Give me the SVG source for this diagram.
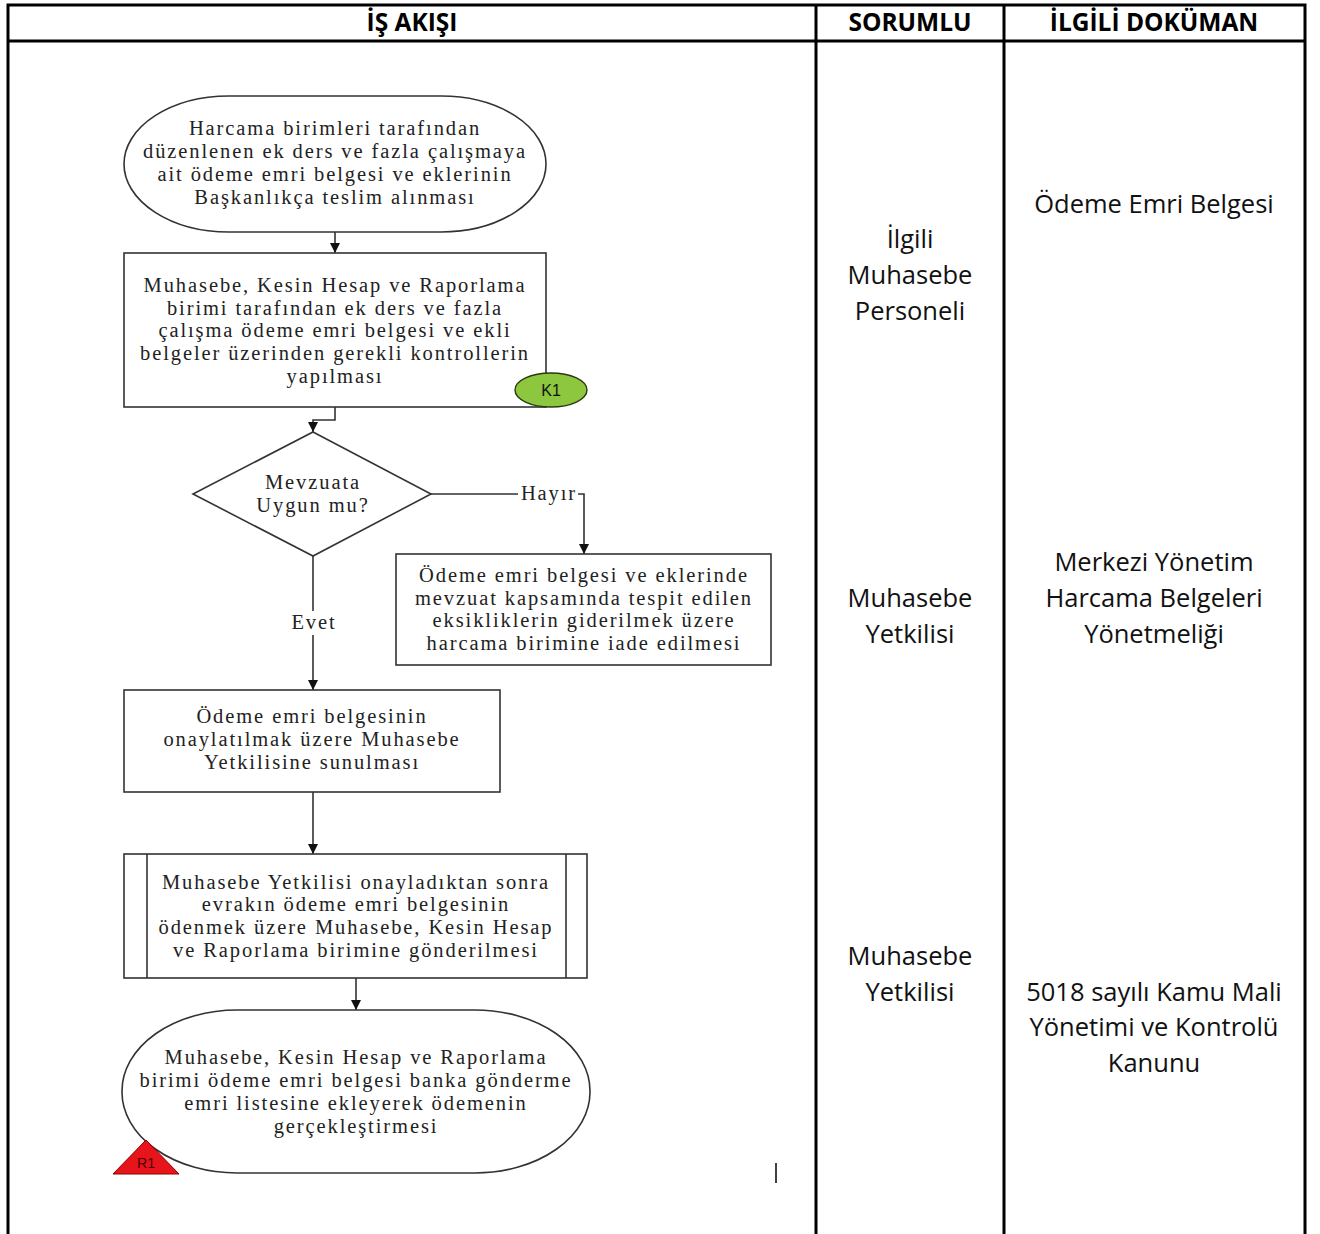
<svg xmlns="http://www.w3.org/2000/svg" width="1320" height="1234" viewBox="0 0 1320 1234">
<style>
.grid{stroke:#000;stroke-width:3;fill:none}
.hd{font-family:"Open Sans","Liberation Sans",sans-serif;font-weight:bold;font-size:24.5px;fill:#000;text-anchor:middle}
.col{font-family:"Open Sans","Liberation Sans",sans-serif;font-size:25.5px;fill:#111;text-anchor:middle}
.fc{font-family:"Liberation Serif","DejaVu Serif",serif;font-size:20.5px;letter-spacing:1.9px;fill:#222;text-anchor:middle}
.shape{fill:#fff;stroke:#333;stroke-width:1.6}
.ln{stroke:#333;stroke-width:1.6;fill:none}
</style>
<defs>
<marker id="ah" viewBox="0 0 10 10" refX="10" refY="5" markerWidth="10" markerHeight="10" markerUnits="userSpaceOnUse" orient="auto">
<path d="M0,0 L10,5 L0,10 z" fill="#111"/>
</marker>
</defs>
<rect width="1320" height="1234" fill="#fff"/>
<g id="table">
<path class="grid" d="M8,1234 V5 H1305 V1234 M8,41 H1305 M816,5 V1234 M1004,5 V1234"/>
<text class="hd" x="412" y="31">İŞ AKIŞI</text>
<text class="hd" x="910" y="31">SORUMLU</text>
<text class="hd" x="1154" y="31">İLGİLİ DOKÜMAN</text>
</g>
<g id="sorumlu">
<text class="col" x="910" y="248">İlgili</text>
<text class="col" x="910" y="284">Muhasebe</text>
<text class="col" x="910" y="320">Personeli</text>
<text class="col" x="910" y="607">Muhasebe</text>
<text class="col" x="910" y="643">Yetkilisi</text>
<text class="col" x="910" y="965">Muhasebe</text>
<text class="col" x="910" y="1001">Yetkilisi</text>
</g>
<g id="dokuman">
<text class="col" x="1154" y="213">Ödeme Emri Belgesi</text>
<text class="col" x="1154" y="571">Merkezi Yönetim</text>
<text class="col" x="1154" y="607">Harcama Belgeleri</text>
<text class="col" x="1154" y="643">Yönetmeliği</text>
<text class="col" x="1154" y="1001">5018 sayılı Kamu Mali</text>
<text class="col" x="1154" y="1036">Yönetimi ve Kontrolü</text>
<text class="col" x="1154" y="1072">Kanunu</text>
</g>
<g id="connectors">
<line class="ln" x1="335" y1="232" x2="335" y2="253" marker-end="url(#ah)"/>
<polyline class="ln" points="335,407 335,420 313,420 313,432" marker-end="url(#ah)"/>
<polyline class="ln" points="431,494 584,494 584,554" marker-end="url(#ah)"/>
<line class="ln" x1="313" y1="556" x2="313" y2="690" marker-end="url(#ah)"/>
<line class="ln" x1="313" y1="792" x2="313" y2="854" marker-end="url(#ah)"/>
<line class="ln" x1="356" y1="978" x2="356" y2="1010" marker-end="url(#ah)"/>
<rect x="518" y="482" width="60" height="24" fill="#fff"/>
<text class="fc" x="549" y="500">Hayır</text>
<rect x="288" y="611" width="52" height="24" fill="#fff"/>
<text class="fc" x="314" y="629">Evet</text>
</g>
<g id="n1">
<rect class="shape" x="124" y="96" width="422" height="136" rx="105" ry="68"/>
<text class="fc" x="335" y="135">Harcama birimleri tarafından</text>
<text class="fc" x="335" y="158">düzenlenen ek ders ve fazla çalışmaya</text>
<text class="fc" x="335" y="181">ait ödeme emri belgesi ve eklerinin</text>
<text class="fc" x="335" y="204">Başkanlıkça teslim alınması</text>
</g>
<g id="n2">
<rect class="shape" x="124" y="253" width="422" height="154"/>
<text class="fc" x="335" y="292">Muhasebe, Kesin Hesap ve Raporlama</text>
<text class="fc" x="335" y="315">birimi tarafından ek ders ve fazla</text>
<text class="fc" x="335" y="337">çalışma ödeme emri belgesi ve ekli</text>
<text class="fc" x="335" y="360">belgeler üzerinden gerekli kontrollerin</text>
<text class="fc" x="335" y="383">yapılması</text>
</g>
<g id="k1">
<ellipse cx="551" cy="390" rx="36" ry="17" fill="#8DC63F" stroke="#2a3a10" stroke-width="1.4"/>
<text x="551" y="396" font-family="'Liberation Sans',sans-serif" font-size="16" text-anchor="middle" fill="#111">K1</text>
</g>
<g id="d1">
<polygon class="shape" points="313,432 431,494 313,556 193,494"/>
<text class="fc" x="313" y="489">Mevzuata</text>
<text class="fc" x="313" y="512">Uygun mu?</text>
</g>
<g id="n3">
<rect class="shape" x="396" y="554" width="375" height="111"/>
<text class="fc" x="584" y="582">Ödeme emri belgesi ve eklerinde</text>
<text class="fc" x="584" y="605">mevzuat kapsamında tespit edilen</text>
<text class="fc" x="584" y="627">eksikliklerin giderilmek üzere</text>
<text class="fc" x="584" y="650">harcama birimine iade edilmesi</text>
</g>
<g id="n4">
<rect class="shape" x="124" y="690" width="376" height="102"/>
<text class="fc" x="312" y="723">Ödeme emri belgesinin</text>
<text class="fc" x="312" y="746">onaylatılmak üzere Muhasebe</text>
<text class="fc" x="312" y="769">Yetkilisine sunulması</text>
</g>
<g id="n5">
<rect class="shape" x="124" y="854" width="463" height="124"/>
<line class="ln" x1="147" y1="854" x2="147" y2="978"/>
<line class="ln" x1="566" y1="854" x2="566" y2="978"/>
<text class="fc" x="356" y="889">Muhasebe Yetkilisi onayladıktan sonra</text>
<text class="fc" x="356" y="911">evrakın ödeme emri belgesinin</text>
<text class="fc" x="356" y="934">ödenmek üzere Muhasebe, Kesin Hesap</text>
<text class="fc" x="356" y="957">ve Raporlama birimine gönderilmesi</text>
</g>
<g id="n6">
<rect class="shape" x="122" y="1010" width="468" height="163" rx="115" ry="81"/>
<text class="fc" x="356" y="1064">Muhasebe, Kesin Hesap ve Raporlama</text>
<text class="fc" x="356" y="1087">birimi ödeme emri belgesi banka gönderme</text>
<text class="fc" x="356" y="1110">emri listesine ekleyerek ödemenin</text>
<text class="fc" x="356" y="1133">gerçekleştirmesi</text>
</g>
<g id="r1">
<polygon points="113,1174 179,1174 146,1140" fill="#E8141B" stroke="#8a0000" stroke-width="1"/>
<text x="146" y="1168" font-family="'Liberation Sans',sans-serif" font-size="14" text-anchor="middle" fill="#4a0000">R1</text>
</g>
<line x1="776" y1="1163" x2="776" y2="1183" stroke="#000" stroke-width="1.5"/>
</svg>
